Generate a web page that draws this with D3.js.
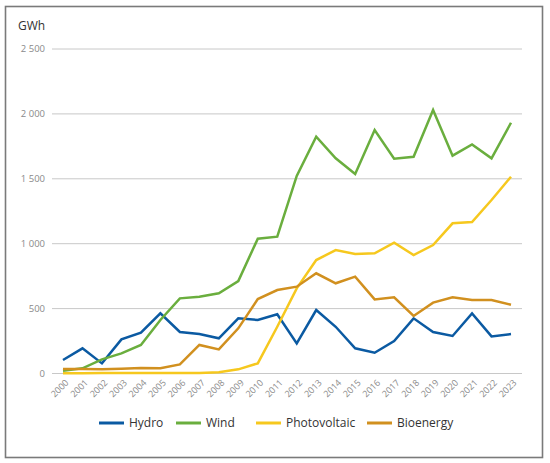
<!DOCTYPE html>
<html>
<head>
<meta charset="utf-8">
<script src="https://cdn.jsdelivr.net/npm/d3@7"></script>
<style>
  body { margin: 0; background: #fff; }
  svg { display: block; font-family: "Open Sans", "Noto Sans", sans-serif; }
</style>
</head>
<body>
<div id="chart"></div>
<script>
// Data (GWh)
const years = d3.range(2000, 2024).map(String);
const hydro = [104, 194, 78, 263, 315, 464, 320, 304, 271, 425, 412, 456, 232, 489, 360, 194, 160, 250, 425, 320, 289, 463, 286, 304];
const wind = [22, 40, 109, 155, 220, 412, 579, 592, 618, 712, 1039, 1054, 1522, 1824, 1658, 1537, 1876, 1655, 1670, 2030, 1678, 1765, 1658, 1932];
const photovoltaic = [2, 2, 3, 3, 3, 3, 3, 4, 10, 32, 78, 360, 656, 874, 951, 920, 926, 1008, 913, 990, 1157, 1167, 1337, 1516];
const bioenergy = [35, 35, 32, 37, 43, 40, 70, 220, 186, 348, 574, 643, 669, 772, 695, 746, 571, 587, 443, 546, 587, 566, 566, 530];
const yTicks = [0, 500, 1000, 1500, 2000, 2500];

const series = [
  { name: 'Hydro', values: hydro, color: '#0b5aa2' },
  { name: 'Wind', values: wind, color: '#6aae3e' },
  { name: 'Photovoltaic', values: photovoltaic, color: '#f6c81e' },
  { name: 'Bioenergy', values: bioenergy, color: '#d1901f' }
];

const width = 550;
const height = 463;

const svg = d3.select('#chart')
  .append('svg')
  .attr('width', width)
  .attr('height', height);

// outer frame
svg.append('rect')
  .attr('x', 5.5)
  .attr('y', 6.5)
  .attr('width', 537)
  .attr('height', 451)
  .attr('fill', '#fff')
  .attr('stroke', '#7a7a7a')
  .attr('stroke-width', 1.6);

const x = d3.scalePoint()
  .domain(years)
  .range([63, 511]);

const y = d3.scaleLinear()
  .domain([0, 2500])
  .range([373.5, 49]);

// gridlines
svg.append('g')
  .selectAll('line')
  .data(yTicks)
  .enter().append('line')
  .attr('x1', 52)
  .attr('x2', 522)
  .attr('y1', d => y(d))
  .attr('y2', d => y(d))
  .attr('stroke', '#c8c8c8')
  .attr('stroke-width', 1);

// y axis labels
const fmt = d => d3.format(',')(d).replace(',', ' ');
svg.append('g')
  .selectAll('text')
  .data(yTicks)
  .enter().append('text')
  .attr('x', 45)
  .attr('y', d => y(d))
  .attr('dy', '0.35em')
  .attr('text-anchor', 'end')
  .attr('fill', '#8a8a8a')
  .style('font-size', '9.5px')
  .text(fmt);

svg.append('text')
  .attr('x', 18)
  .attr('y', 30)
  .attr('fill', '#333')
  .style('font-size', '12px')
  .text('GWh');

// x axis labels
svg.append('g')
  .selectAll('text')
  .data(years)
  .enter().append('text')
  .attr('transform', d => `translate(${x(d) + 4},${381}) rotate(-45)`)
  .attr('text-anchor', 'end')
  .attr('dy', '0.35em')
  .attr('fill', '#8a8a8a')
  .style('font-size', '9px')
  .text(d => d);

// lines
const line = d3.line()
  .x((d, i) => x(years[i]))
  .y(d => y(d));

svg.append('g')
  .selectAll('path')
  .data(series)
  .enter().append('path')
  .attr('d', d => line(d.values))
  .attr('fill', 'none')
  .attr('stroke', d => d.color)
  .attr('stroke-width', 2.5)
  .attr('stroke-linejoin', 'miter');

// legend
const legendX = [99, 176, 256, 367];
const legend = svg.append('g')
  .selectAll('g')
  .data(series)
  .enter().append('g')
  .attr('transform', (d, i) => `translate(${legendX[i]},423)`);

legend.append('line')
  .attr('x1', 0)
  .attr('x2', 25)
  .attr('stroke', d => d.color)
  .attr('stroke-width', 3);

legend.append('text')
  .attr('x', 30)
  .attr('dy', '0.35em')
  .attr('fill', '#333')
  .style('font-size', '12px')
  .text(d => d.name);
</script>
</body>
</html>
